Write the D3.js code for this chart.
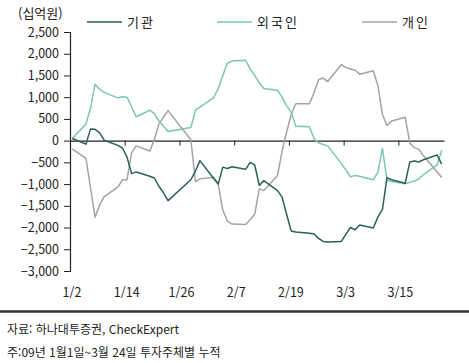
<!DOCTYPE html>
<html lang="ko">
<head>
<meta charset="utf-8">
<title>투자주체별 누적 순매수</title>
<script src="https://cdn.jsdelivr.net/npm/d3@7"></script>
<style>
  body { margin: 0; background: #fff; }
  text { font-family: "Noto Sans CJK KR", "Noto Sans", sans-serif; fill: #222; }
</style>
</head>
<body>
<script>
// trading days, Jan 2 ~ Mar 24 2009
var dates = ["01-02","01-05","01-06","01-07","01-08","01-09","01-12","01-13","01-14","01-15","01-16",
  "01-19","01-20","01-21","01-22","01-23","01-28","01-29","01-30","02-02","02-03","02-04","02-05","02-06",
  "02-09","02-10","02-11","02-12","02-13","02-16","02-17","02-18","02-19","02-20","02-23","02-24","02-25",
  "02-26","02-27","03-02","03-03","03-04","03-05","03-06","03-09","03-10","03-11","03-12","03-13","03-16",
  "03-17","03-18","03-19","03-20","03-23","03-24"]

// cumulative net buying, 십억원
var inst = [50,-80,270,260,180,10,-110,-170,-380,-760,-720,
  -820,-860,-1050,-1200,-1380,-900,-700,-460,-870,-1000,-610,-640,-600,
  -660,-500,-560,-1030,-920,-1150,-1300,-1700,-2080,-2100,-2130,-2150,-2250,
  -2320,-2330,-2320,-2150,-2000,-2050,-1940,-2010,-1760,-1580,-850,-900,-980,
  -490,-470,-490,-440,-330,-540]
var foreign = [50,380,750,1300,1180,1110,985,1010,1000,780,550,
  700,620,450,330,210,300,700,770,990,1200,1500,1780,1830,
  1850,1650,1500,1330,1200,1160,1000,800,650,330,320,50,-50,
  -90,-120,-530,-680,-830,-800,-820,-900,-730,-180,-910,-940,-990,
  -960,-930,-880,-780,-560,-220]
var indiv = [-190,-410,-1090,-1760,-1480,-1290,-1070,-900,-900,-280,-120,
  -240,30,380,540,690,20,-940,-880,-840,-1000,-1600,-1850,-1920,
  -1930,-1820,-1690,-1110,-1150,-800,-240,200,600,850,850,1100,1400,
  1440,1360,1750,1680,1650,1620,1530,1610,1270,600,350,450,540,
  -60,-160,-200,-350,-720,-850]

var seriesNames = ["기관","외국인","개인"]
var seriesColors = ["#2b605a","#7dc5b7","#a3a3a3"]
var yTicks = [2500,2000,1500,1000,500,0,-500,-1000,-1500,-2000,-2500,-3000]
var xTicks = ["01-02","01-14","01-26","02-07","02-19","03-03","03-15"]

var parse = function(s) { return new Date(2009, +s.slice(0,2)-1, +s.slice(3)) }
var noon = function(s) { var d = parse(s); d.setHours(12); return d }

var svg = d3.select("body").append("svg").attr("width",469).attr("height",363)

var x = d3.scaleTime().domain([parse("01-02"), parse("03-25")]).range([70,444])
var y = d3.scaleLinear().domain([-3000,2500]).range([271,32])

// y axis
svg.append("g")
  .attr("transform","translate(70,0)")
  .call(d3.axisLeft(y).tickValues(yTicks).tickSize(6).tickPadding(5).tickFormat(d3.format(",")))
  .call(function(g) {
    g.select(".domain").attr("stroke","#222").attr("stroke-width",1.2)
    g.selectAll(".tick line").attr("stroke","#222")
    g.selectAll(".tick text").attr("font-size",12.5).attr("fill","#222")
      .attr("font-family","'Noto Sans CJK KR', sans-serif")
  })

// x axis on zero line, labels at the bottom
svg.append("g")
  .attr("transform","translate(0," + y(0) + ")")
  .call(d3.axisBottom(x).tickValues(xTicks.map(parse)).tickSize(5).tickSizeOuter(0).tickFormat(""))
  .call(function(g) {
    g.select(".domain").attr("stroke","#222").attr("stroke-width",1.2)
    g.selectAll(".tick line").attr("stroke","#222")
  })

svg.append("g").selectAll("text").data(xTicks).enter().append("text")
  .attr("x", function(d) { return x(parse(d)) + 2 })
  .attr("y", 297)
  .attr("text-anchor","middle")
  .attr("font-size",12.5)
  .text(function(d) { var p = d.split("-"); return (+p[0]) + "/" + (+p[1]) })

// lines
var all = [inst, foreign, indiv]
var line = d3.line()
  .x(function(d, i) { return x(noon(dates[i])) })
  .y(function(d) { return y(d) })

svg.append("g").selectAll("path").data([indiv, foreign, inst]).enter().append("path")
  .attr("d", function(d) { return line(d) })
  .attr("fill","none")
  .attr("stroke", function(d) { return seriesColors[all.indexOf(d)] })
  .attr("stroke-width",1.5)
  .attr("stroke-linejoin","round")

// legend
var legX = [87,217,362]
var leg = svg.append("g").selectAll("g").data(seriesNames).enter().append("g")
  .attr("transform", function(d, i) { return "translate(" + legX[i] + ",22)" })
leg.append("line").attr("x1",0).attr("x2",35).attr("y1",0).attr("y2",0)
  .attr("stroke", function(d, i) { return seriesColors[i] }).attr("stroke-width",1.5)
leg.append("text").attr("x",40).attr("y",5).attr("font-size",13).attr("letter-spacing",2)
  .text(function(d) { return d })

// unit
svg.append("text").attr("x",18).attr("y",18).attr("font-size",13).text("(십억원)")

// footer
svg.append("line").attr("x1",0).attr("x2",469).attr("y1",311.5).attr("y2",311.5)
  .attr("stroke","#333").attr("stroke-width",2.5)
svg.append("text").attr("x",7).attr("y",334).attr("font-size",12).text("자료: 하나대투증권, CheckExpert")
svg.append("text").attr("x",7).attr("y",357).attr("font-size",12).text("주:09년 1월1일~3월 24일 투자주체별 누적")
</script>
</body>
</html>
